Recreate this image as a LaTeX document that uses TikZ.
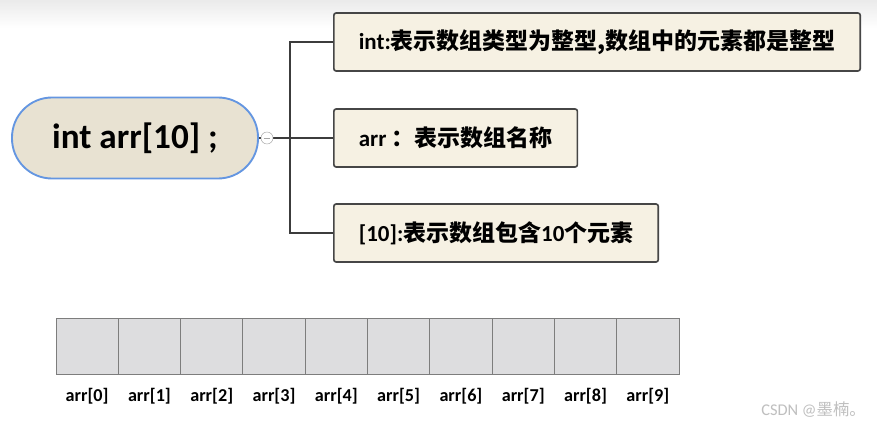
\documentclass[tikz,border=0pt]{standalone}
\usepackage{fontspec}
\setmainfont{Carlito}
\newfontfamily\cjk{Noto Sans CJK SC}
\usetikzlibrary{positioning}
\definecolor{rootfill}{RGB}{232,226,210}
\definecolor{rootblue}{RGB}{100,150,225}
\definecolor{boxfill}{RGB}{246,241,227}
\definecolor{boxline}{RGB}{70,70,70}
\definecolor{linkgray}{RGB}{60,60,60}
\definecolor{cellfill}{RGB}{221,221,223}
\definecolor{cellline}{RGB}{125,125,125}

\begin{document}
\begin{tikzpicture}[
    x=0.03cm, y=-0.03cm,
    root/.style={rectangle, rounded corners=1.2cm, draw=rootblue, line width=1.6pt, fill=rootfill,
                 minimum width=7.38cm, minimum height=2.43cm, font=\fontsize{30}{34}\selectfont\bfseries},
    note/.style={rectangle, rounded corners=2pt, draw=boxline, line width=1.4pt, fill=boxfill,
                 minimum height=1.74cm, inner xsep=0.75cm, anchor=west, font=\fontsize{19.6}{22}\selectfont\bfseries},
    toggle/.style={circle, draw=gray!70, fill=white, inner sep=0pt, minimum size=0.36cm},
    branch/.style={draw=linkgray, line width=1.6pt},
    cell/.style={rectangle, draw=cellline, fill=cellfill, line width=0.8pt, minimum width=1.869cm,
                 minimum height=1.68cm, outer sep=0pt},
    idx/.style={font=\fontsize{15.5}{17}\selectfont\bfseries},
    wmark/.style={text=gray!50, font=\fontsize{14}{16}\selectfont}
]
    % page
    \fill[white] (0,0) rectangle (877,425);
    \shade[top color=black!8, bottom color=white] (0,0) rectangle (877,28);
    \useasboundingbox (0,0) rectangle (877,425);

    % mind map
    \node[root] (decl) at (135,138) {int arr[10] ;};
    \node[note] (kind) at (333,42) {int:{\cjk 表示数组类型为整型,数组中的元素都是整型}};
    \node[note] (name) at (333,138) {arr {\cjk ：表示数组名称}};
    \node[note] (size) at (333,233) {[10]:{\cjk 表示数组包含}10{\cjk 个元素}};
    \coordinate (fork) at (290,138);

    \draw[branch] (decl.east) -- (fork);
    \draw[branch] (fork) |- (kind.west);
    \draw[branch] (fork) -- (name.west);
    \draw[branch] (fork) |- (size.west);
    \node[toggle] (fold) at (267,138) {};
    \draw[gray!70, line width=0.6pt] ([xshift=-0.1cm]fold.center) -- ([xshift=0.1cm]fold.center);

    % array cells
    \foreach \i in {0,...,9} {
        \node[cell] (cell\i) at ({87.15+62.3*\i},346) {};
        \node[idx, below=0.3cm of cell\i] (lbl\i) {arr[\i]};
    }

    \node[wmark, anchor=east] (credit) at (870,410) {CSDN @{\cjk 墨楠。}};
\end{tikzpicture}
\end{document}
